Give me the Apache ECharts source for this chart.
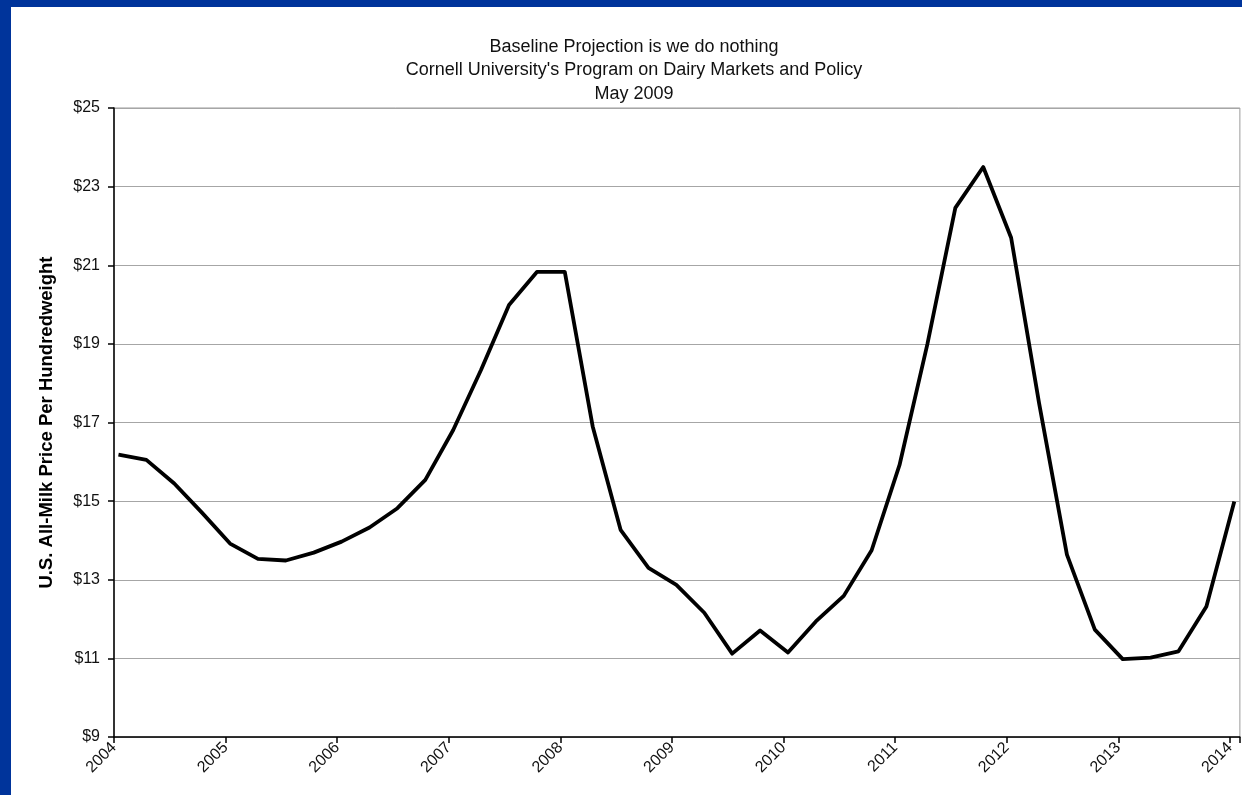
<!DOCTYPE html>
<html>
<head>
<meta charset="utf-8">
<script src="https://cdn.jsdelivr.net/npm/echarts@6/dist/echarts.min.js"></script>
<style>
  html, body { margin: 0; padding: 0; width: 1242px; height: 795px; background: #00349b; overflow: hidden; }
  #panel { position: absolute; left: 11px; top: 7px; width: 1231px; height: 788px; background: #fff; }
  #chart { width: 100%; height: 100%; }
</style>
</head>
<body>
<div id="panel"><div id="chart"></div></div>
<script>
// quarterly points, first one just after Jan 2004
const startYear = 2004.04;
const step = 0.25;
const prices = [
  16.18, 16.05, 15.45, 14.7, 13.92, 13.53, 13.49, 13.69, 13.97, 14.33,
  14.82, 15.54, 16.81, 18.34, 19.99, 20.83, 20.83, 16.9, 14.27, 13.3,
  12.87, 12.16, 11.12, 11.71, 11.15, 11.94, 12.59, 13.75, 15.92, 19.0,
  22.46, 23.5, 21.7, 17.5, 13.64, 11.73, 10.98, 11.02, 11.18, 12.32,
  14.99
];
const titleLines = [
  'Baseline Projection is we do nothing',
  "Cornell University's Program on Dairy Markets and Policy",
  'May 2009'
];
const yAxisName = 'U.S. All-Milk Price Per Hundredweight';

const points = prices.map((v, i) => [startYear + i * step, v]);
const font = 'Liberation Sans, Arial, sans-serif';

const chart = echarts.init(document.getElementById('chart'));
chart.setOption({
  animation: false,
  title: {
    text: titleLines.join('\n'),
    left: 618,
    top: 23,
    textAlign: 'center',
    textStyle: { fontFamily: font, fontWeight: 'normal', fontSize: 18, color: '#111', lineHeight: 23.5 }
  },
  grid: { left: 103, top: 101, right: 2, bottom: 58, show: true, borderColor: '#9a9a9a', borderWidth: 1 },
  xAxis: {
    type: 'value',
    min: 2004,
    max: 2014.09,
    interval: 1,
    axisLine: { onZero: false, lineStyle: { color: '#000', width: 1.5 } },
    axisTick: { show: true, length: 6, lineStyle: { color: '#000', width: 1.5 } },
    splitLine: { show: false },
    axisLabel: {
      rotate: 45,
      margin: 8,
      fontFamily: font,
      fontSize: 16,
      color: '#111',
      formatter: (v) => (Math.abs(v - Math.round(v)) < 1e-6 ? String(Math.round(v)) : '')
    }
  },
  yAxis: {
    type: 'value',
    min: 9,
    max: 25,
    interval: 2,
    name: yAxisName,
    nameLocation: 'middle',
    nameGap: 58,
    nameTextStyle: { fontFamily: font, fontWeight: 'bold', fontSize: 18.5, color: '#000' },
    axisLine: { show: true, lineStyle: { color: '#000', width: 1.5 } },
    axisTick: { show: true, length: 6, lineStyle: { color: '#000', width: 1.5 } },
    splitLine: { show: true, lineStyle: { color: '#a6a6a6', width: 1.2 } },
    axisLabel: {
      margin: 14,
      fontFamily: font,
      fontSize: 16,
      color: '#111',
      formatter: (v) => '$' + v
    }
  },
  series: [{
    type: 'line',
    data: points,
    showSymbol: false,
    lineStyle: { color: '#000', width: 3.8, join: 'round' }
  }]
});
</script>
</body>
</html>
